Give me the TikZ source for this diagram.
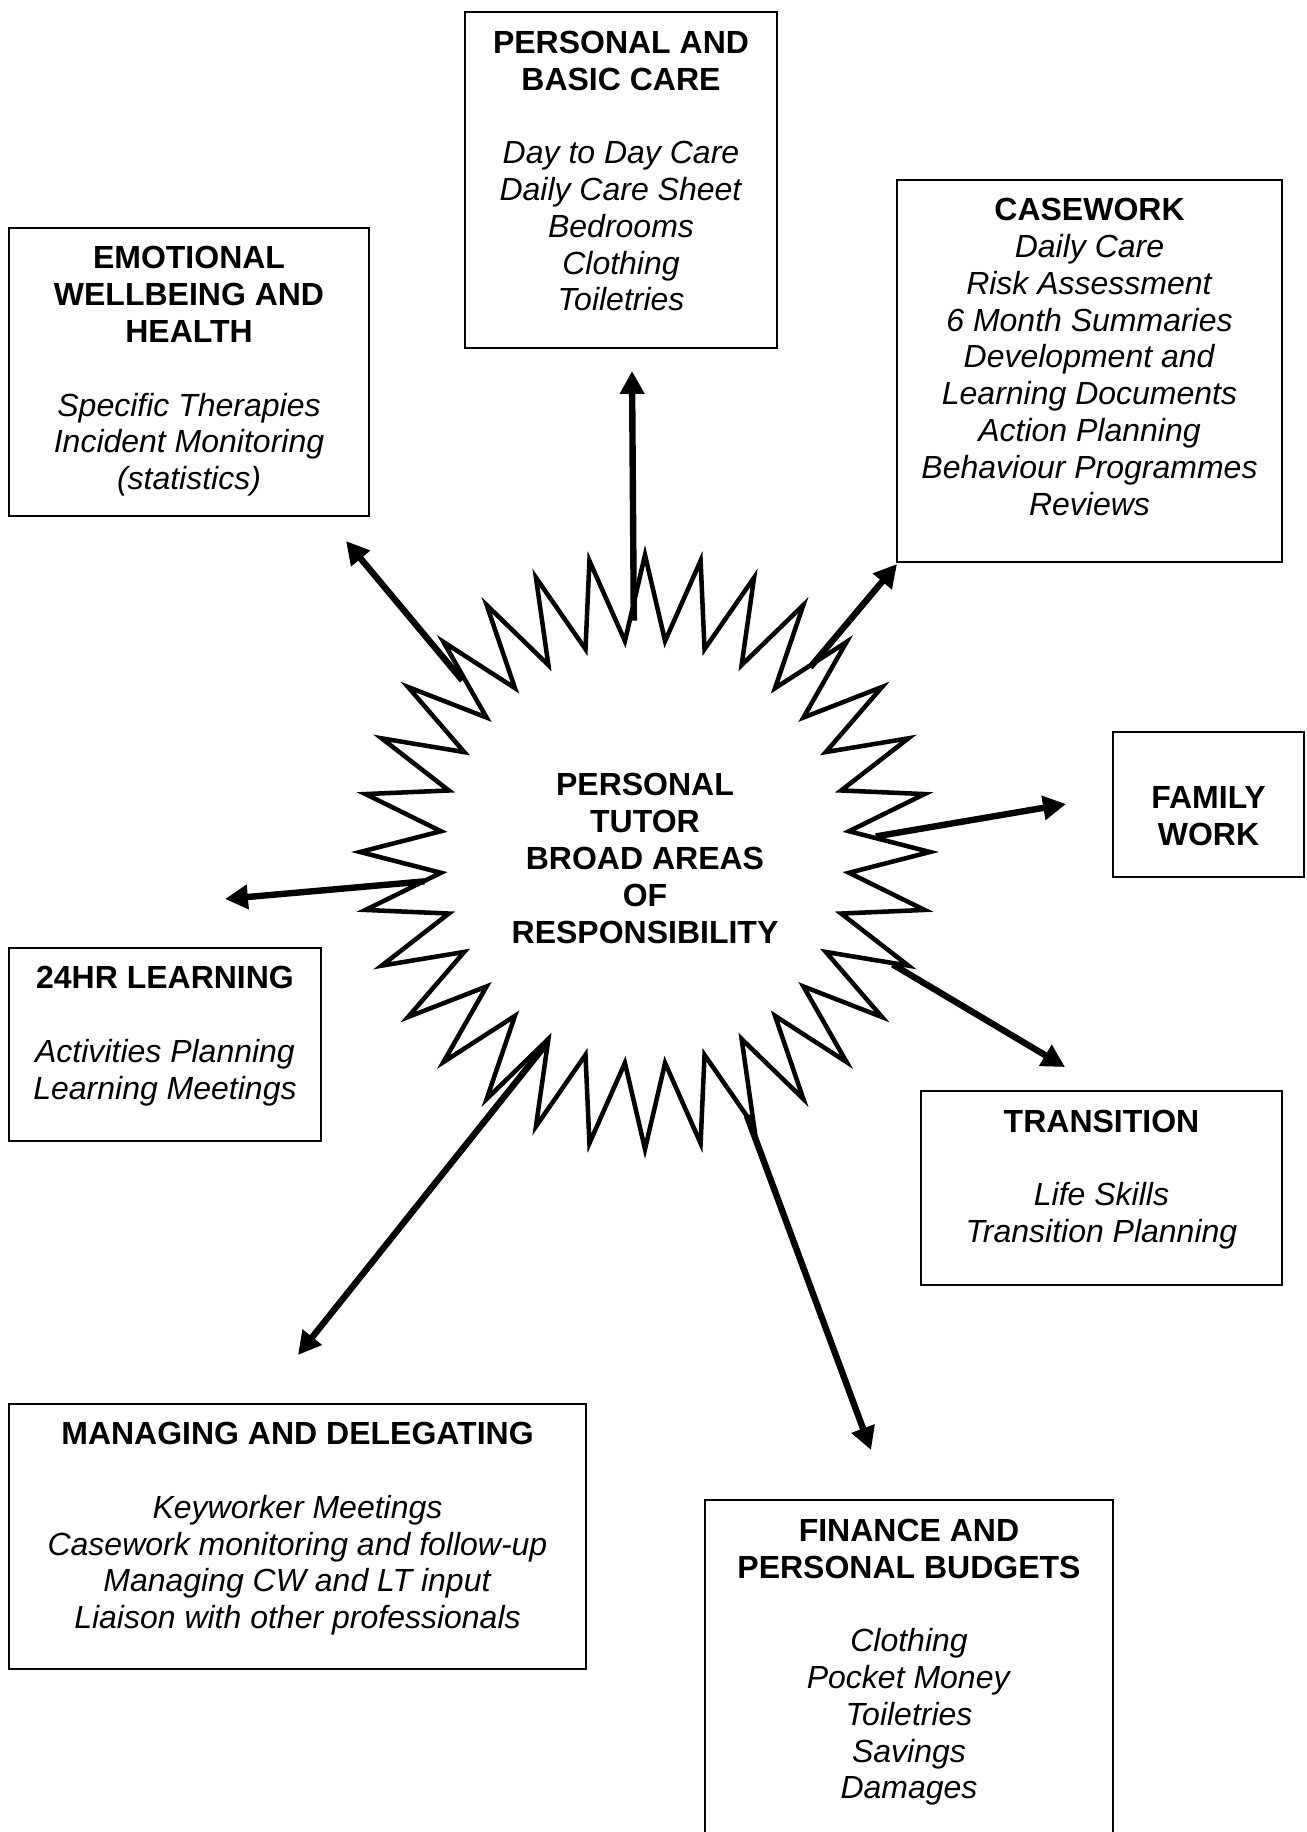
\documentclass[tikz,border=0pt]{standalone}
\usepackage{fontspec}
\setmainfont{Liberation Sans}
\usetikzlibrary{positioning, calc, arrows.meta}

\begin{document}
\begin{tikzpicture}[
  x=0.375pt, y=-0.375pt,
  every node/.style={font=\fontsize{12}{13.8}\selectfont},
  box/.style={draw, line width=0.75pt, inner sep=0pt},
  boxtext/.style={anchor=north, inner sep=0pt, align=center},
  hubtext/.style={circle, inner sep=0pt, outer sep=0pt, minimum size=157.5pt,
                  align=center, font=\fontsize{12}{13.8}\selectfont\bfseries},
  spiky/.style={line width=1.7pt, line join=miter},
  spoke/.style={-{Triangle[length=8.6pt, width=8.8pt]}, line width=2.4pt},
]
  \path[use as bounding box, clip] (0,0) rectangle (1307,1832);

  % Central burst
  \coordinate (core) at (645,852);
  \draw[spiky, shift={(core)}] (0:285 and 297)
    \foreach \a in {11.25,22.5,...,348.75} { -- ({\a-5.625}:205 and 212) -- (\a:285 and 297) }
    -- (354.375:205 and 212) -- cycle;
  \node[hubtext] (hub) at ([yshift=-2.4pt]core)
    {PERSONAL\\TUTOR\\BROAD AREAS\\OF\\RESPONSIBILITY};

  % Boxes (drawn as plain rectangles)
  \node[box, minimum width=117pt, minimum height=126pt] (basic) at (621,180) {};
  \node[box, minimum width=135pt, minimum height=108pt] (emotional) at (189,372) {};
  \node[box, minimum width=144.4pt, minimum height=143.3pt] (casework) at (1089.5,371) {};
  \node[box, minimum width=71.6pt, minimum height=54.4pt] (family) at (1208.5,804.5) {};
  \node[box, minimum width=117pt, minimum height=72.4pt] (learning) at (165,1044.5) {};
  \node[box, minimum width=135.4pt, minimum height=72.8pt] (transition) at (1101.5,1188) {};
  \node[box, minimum width=216.4pt, minimum height=99.4pt] (managing) at (297.5,1536.5) {};
  \node[box, minimum width=153pt, minimum height=135pt] (finance) at (909,1680) {};

  % Box texts
  \node[boxtext] at ([yshift=-7.3pt]basic.north)
    {\textbf{PERSONAL AND}\\\textbf{BASIC CARE}\\[13.8pt]
     \textit{Day to Day Care}\\\textit{Daily Care Sheet}\\\textit{Bedrooms}\\
     \textit{Clothing}\\\textit{Toiletries}};
  \node[boxtext] at ([yshift=-7.1pt]emotional.north)
    {\textbf{EMOTIONAL}\\\textbf{WELLBEING AND}\\\textbf{HEALTH}\\[13.8pt]
     \textit{Specific Therapies}\\\textit{Incident Monitoring}\\\textit{(statistics)}};
  \node[boxtext] at ([yshift=-7.1pt]casework.north)
    {\textbf{CASEWORK}\\
     \textit{Daily Care}\\\textit{Risk Assessment}\\\textit{6 Month Summaries}\\
     \textit{Development and}\\\textit{Learning Documents}\\\textit{Action Planning}\\
     \textit{Behaviour Programmes}\\\textit{Reviews}};
  \node[boxtext] at ([yshift=-20.8pt]family.north)
    {\textbf{FAMILY}\\\textbf{WORK}};
  \node[boxtext] at ([yshift=-7.1pt]learning.north)
    {\textbf{24HR LEARNING}\\[13.8pt]
     \textit{Activities Planning}\\\textit{Learning Meetings}};
  \node[boxtext] at ([yshift=-7.3pt]transition.north)
    {\textbf{TRANSITION}\\[13.8pt]
     \textit{Life Skills}\\\textit{Transition Planning}};
  \node[boxtext] at ([yshift=-7.1pt]managing.north)
    {\textbf{MANAGING AND DELEGATING}\\[13.8pt]
     \textit{Keyworker Meetings}\\\textit{Casework monitoring and follow-up}\\
     \textit{Managing CW and LT input}\\\textit{Liaison with other professionals}};
  \node[boxtext] at ([yshift=-7.3pt]finance.north)
    {\textbf{FINANCE AND}\\\textbf{PERSONAL BUDGETS}\\[13.8pt]
     \textit{Clothing}\\\textit{Pocket Money}\\\textit{Toiletries}\\
     \textit{Savings}\\\textit{Damages}};

  % Arrow ends
  \coordinate (t-basic) at (632,371);
  \coordinate (t-emo) at (346,541);
  \coordinate (t-case) at (897,564);
  \coordinate (t-family) at (1066,804);
  \coordinate (t-learn) at (225,899);
  \coordinate (t-trans) at (1065,1067);
  \coordinate (t-manage) at (298,1355);
  \coordinate (t-fin) at (871,1450);

  % Spokes
  \draw[spoke, shorten <=10.5pt] (hub.93.5) -- (t-basic);
  \draw[spoke, shorten <=17pt] (hub.137.9) -- (t-emo);
  \draw[spoke, shorten <=16pt] (hub.49) -- (t-case);
  \draw[spoke, shorten <=8.2pt] (hub.5) -- (t-family);
  \draw[spoke, shorten <=4.4pt] (hub.186.5) -- (t-learn);
  \draw[spoke, shorten <=22.5pt] (hub.339.3) -- (t-trans);
  \draw[spoke, shorten <=0.5pt] (hub.242.5) -- (t-manage);
  \draw[spoke, shorten <=25pt] (hub.292.5) -- (t-fin);
\end{tikzpicture}
\end{document}
